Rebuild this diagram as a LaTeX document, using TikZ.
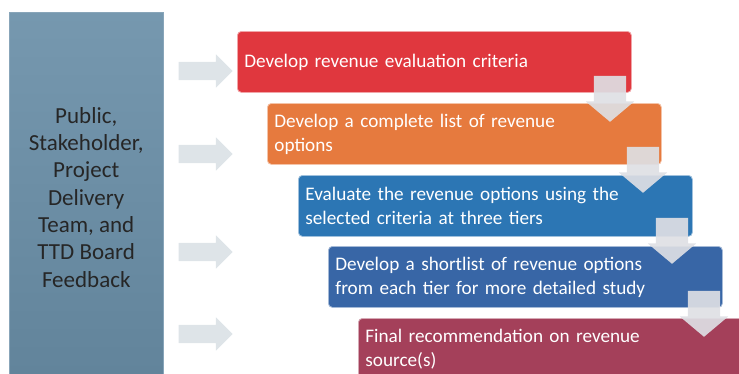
\documentclass[tikz,border=0pt]{standalone}
\usepackage{fontspec}
\setmainfont{Carlito}
\usetikzlibrary{shapes.arrows}

\definecolor{feedblue}{HTML}{6A8FA8}
\definecolor{steporange}{HTML}{E67A3E}
\definecolor{stepred}{HTML}{E0373E}
\definecolor{stepblue}{HTML}{2C76B4}
\definecolor{stepsteel}{HTML}{3866A6}
\definecolor{steprose}{HTML}{A4405A}
\definecolor{arrowgray}{HTML}{DEE4E8}
\definecolor{downgray}{HTML}{DEDFE4}

\begin{document}
\begin{tikzpicture}[x=1pt,y=-1pt,
    stepbox/.style={draw=white!55!#1, fill=#1, line width=0.8pt,
        rounded corners=4pt, anchor=north west, minimum height=61pt,
        text width=380pt, inner xsep=7pt, align=left, text=white,
        font=\fontsize{19.2}{24}\selectfont},
    sidearrow/.style={single arrow, fill=arrowgray, draw=none, inner sep=9pt,
        minimum height=54pt, single arrow head extend=7.5pt},
    downarrow/.style={single arrow, fill=downgray, fill opacity=0.92, draw=none,
        inner sep=16pt, shape border rotate=270, minimum height=46pt,
        single arrow head extend=8pt, single arrow tip angle=100}]

\clip (0,0) rectangle (739,373);

% Feedback column
\node[anchor=north west, minimum width=154pt, minimum height=370pt,
    top color=feedblue!92!white, bottom color=feedblue!92!black,
    draw=feedblue!80!white, line width=0.5pt, align=center, text=black!85,
    font=\fontsize{23}{27.3}\selectfont] (fb) at (9,12)
    {Public,\\Stakeholder,\\Project\\Delivery\\Team, and\\TTD Board\\Feedback};

% Feedback arrows
\node[sidearrow] (in1) at (201,71) {};
\node[sidearrow] (in2) at (201,154) {};
\node[sidearrow] (in3) at (201,252) {};
\node[sidearrow] (in4) at (201,334) {};

% Steps
\node[stepbox=stepred] (s1) at (237,31) {Develop revenue evaluation criteria};
\node[stepbox=steporange] (s2) at (267,103) {Develop a complete list of revenue\\options};
\node[stepbox=stepblue] (s3) at (298,175) {Evaluate the revenue options using the\\selected criteria at three tiers};
\node[stepbox=stepsteel] (s4) at (328,246) {Develop a shortlist of revenue options\\from each tier for more detailed study};
\node[stepbox=steprose] (s5) at (358,318) {Final recommendation on revenue\\source(s)};

% Step arrows
\node[downarrow] (dn1) at (610,92) {};
\node[downarrow] (dn2) at (643,163) {};
\node[downarrow] (dn3) at (672,234) {};
\node[downarrow] (dn4) at (704,307) {};

\end{tikzpicture}
\end{document}
